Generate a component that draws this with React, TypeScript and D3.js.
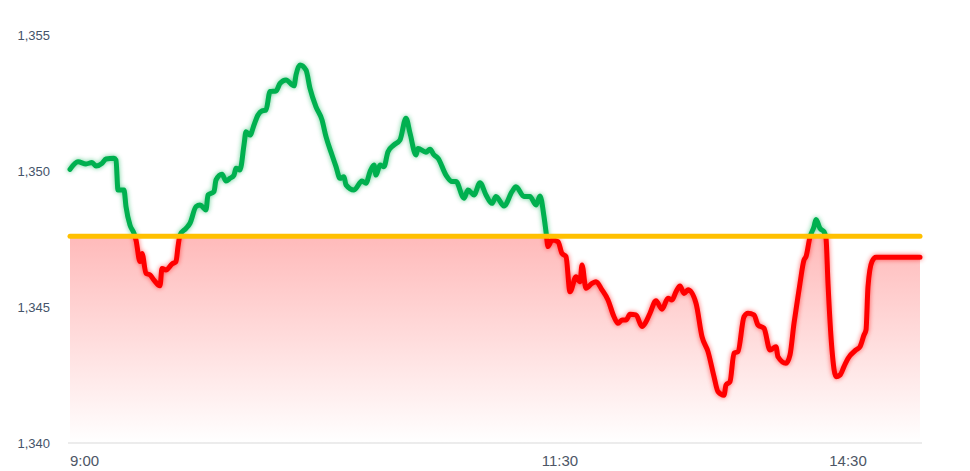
import React from "react";
import * as d3 from "d3";

// sample index (chart time axis) and price
const sampleIdx = [1,5,9,12,14,17,19,23,24,25,28,29,31,33,34,36,37,39,41,43,46,47,49,52,54,55,56,59,61,64,66,69,70,73,74,77,79,81,83,84,86,88,89,91,93,95,97,99,101,104,106,109,113,114,116,119,121,124,127,129,132,134,136,138,139,143,147,149,151,153,154,156,158,160,163,166,169,171,174,175,179,181,183,185,189,192,194,198,200,203,206,209,212,214,218,222,224,228,231,234,236,238,239,240,242,245,247,249,251,254,256,257,259,262,264,267,270,273,275,277,279,281,284,287,289,291,294,297,300,302,304,306,308,310,314,317,320,323,325,328,329,331,333,335,338,340,343,345,348,351,354,355,359,361,363,364,366,368,369,371,373,374,376,378,379,380,382,384,386,388,390,394,396,398,399,400,402,404,426];
const prices = [1350.06,1350.34,1350.26,1350.31,1350.18,1350.28,1350.44,1350.47,1350.40,1349.30,1349.30,1348.69,1348.01,1347.71,1347.46,1346.67,1346.97,1346.24,1346.18,1345.99,1345.78,1346.42,1346.36,1346.58,1346.67,1347.22,1347.65,1347.89,1348.08,1348.69,1348.75,1348.57,1349.12,1349.24,1349.67,1349.88,1349.63,1349.73,1349.85,1350.10,1350.04,1350.96,1351.44,1351.32,1351.69,1352.06,1352.21,1352.24,1352.92,1352.94,1353.22,1353.35,1353.13,1353.53,1353.90,1353.71,1353.04,1352.36,1351.88,1351.26,1350.59,1350.16,1349.73,1349.79,1349.49,1349.30,1349.63,1349.55,1349.97,1350.22,1349.85,1350.22,1350.16,1350.71,1350.96,1351.14,1351.94,1351.39,1350.59,1350.83,1350.69,1350.80,1350.59,1350.47,1349.85,1349.61,1349.61,1349.00,1349.30,1349.12,1349.57,1349.12,1348.81,1349.06,1348.71,1349.24,1349.42,1349.06,1349.06,1348.75,1349.08,1348.32,1347.77,1347.22,1347.46,1347.40,1346.97,1346.85,1345.56,1346.11,1345.93,1346.54,1345.69,1345.87,1345.93,1345.63,1345.26,1344.64,1344.40,1344.52,1344.52,1344.73,1344.71,1344.28,1344.46,1344.77,1345.23,1344.92,1345.32,1345.26,1345.56,1345.77,1345.50,1345.63,1345.14,1343.91,1343.36,1342.44,1341.89,1341.76,1342.13,1342.25,1343.30,1343.36,1344.64,1344.77,1344.71,1344.34,1344.22,1343.42,1343.54,1343.17,1342.93,1343.24,1344.40,1344.89,1345.87,1346.73,1346.85,1347.58,1347.95,1348.22,1347.89,1347.77,1347.53,1345.87,1343.42,1342.44,1342.50,1342.81,1343.11,1343.42,1343.54,1343.97,1344.15,1345.75,1346.67,1346.83,1346.83];
const basePrice = 1347.6;
const yTicks = [1340, 1345, 1350, 1355];
const xTickLabels = ["9:00", "11:30", "14:30"];
const xTickIdx = [8.25, 246, 390];
const idxDomain = [0, 427];

const W = 970, H = 471;
const left = 68, right = 922, top = 35, bottom = 443;

export default function App() {
  const x = d3.scaleLinear().domain(idxDomain).range([left, right]);
  const y = d3.scaleLinear().domain([1340, 1355]).range([bottom, top]);
  const pts: [number, number][] = sampleIdx.map((d, i) => [d, prices[i]]);
  const lineGen = d3.line<[number, number]>().x(d => x(d[0])).y(d => y(d[1])).curve(d3.curveMonotoneX);
  const areaGen = d3.area<[number, number]>().x(d => x(d[0])).y0(bottom).y1(d => y(d[1])).curve(d3.curveMonotoneX);
  const yb = y(basePrice);
  const lp = lineGen(pts) || "";
  const font = "'Liberation Sans', Arial, sans-serif";
  return (
    <svg width={W} height={H} style={{ position: "absolute", left: 0, top: 0, display: "block" }}>
      <defs>
        <linearGradient id="fillGrad" gradientUnits="userSpaceOnUse" x1="0" y1={yb} x2="0" y2={bottom}>
          <stop offset="0" stopColor="#ffbaba" />
          <stop offset="1" stopColor="#ffffff" />
        </linearGradient>
        <clipPath id="clipAbove"><rect x={0} y={0} width={W} height={yb} /></clipPath>
        <clipPath id="clipBelow"><rect x={0} y={yb} width={W} height={H - yb} /></clipPath>
        <clipPath id="clipFill"><rect x={0} y={yb} width={W} height={bottom - yb} /></clipPath>
        <filter id="glow" x="-5%" y="-5%" width="110%" height="110%">
          <feGaussianBlur in="SourceGraphic" stdDeviation="2.6" result="b" />
          <feComponentTransfer in="b" result="b2">
            <feFuncA type="linear" slope="0.6" />
          </feComponentTransfer>
          <feMerge>
            <feMergeNode in="b2" />
            <feMergeNode in="SourceGraphic" />
          </feMerge>
        </filter>
      </defs>
      <rect x={0} y={0} width={W} height={H} fill="#ffffff" />
      <path d={areaGen(pts) || ""} fill="url(#fillGrad)" clipPath="url(#clipFill)" />
      <line x1={left} x2={right} y1={bottom} y2={bottom} stroke="#d9d9d9" strokeWidth={1} />
      <g clipPath="url(#clipAbove)">
        <path d={lp} fill="none" stroke="#00b050" strokeWidth={5} strokeLinejoin="round" strokeLinecap="round" filter="url(#glow)" />
      </g>
      <g clipPath="url(#clipBelow)">
        <path d={lp} fill="none" stroke="#ff0000" strokeWidth={5} strokeLinejoin="round" strokeLinecap="round" filter="url(#glow)" />
      </g>
      <line x1={x(1)} x2={x(426)} y1={yb} y2={yb} stroke="#ffc000" strokeWidth={5} strokeLinecap="round" />
      {yTicks.map(t => (
        <text key={t} x={50} y={y(t)} dy="0.35em" textAnchor="end" fontFamily={font} fontSize={13} fill="#44546a">
          {d3.format(",")(t)}
        </text>
      ))}
      {xTickLabels.map((l, i) => (
        <text key={l} x={x(xTickIdx[i])} y={466} textAnchor="middle" fontFamily={font} fontSize={15} fill="#4d5666">
          {l}
        </text>
      ))}
    </svg>
  );
}
